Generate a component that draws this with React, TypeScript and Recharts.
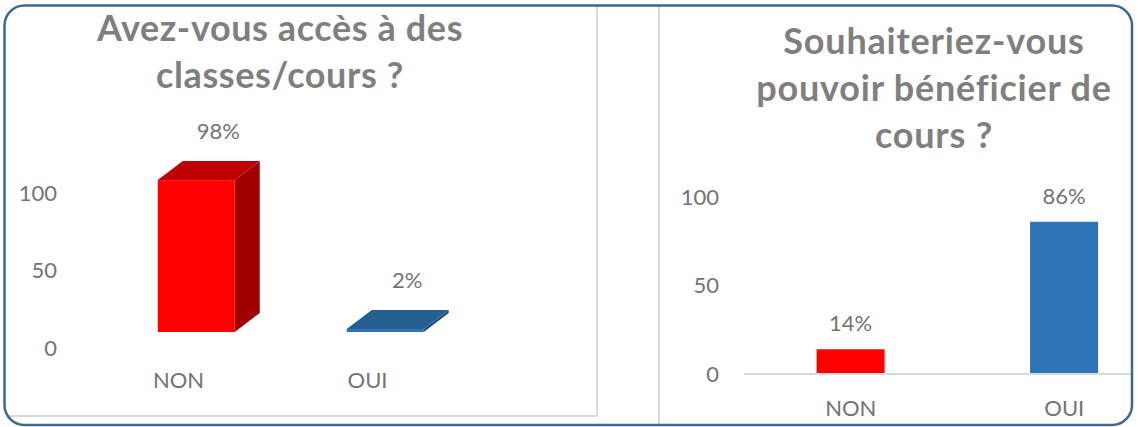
import React from 'react';
import { BarChart, Bar, XAxis, YAxis, LabelList, Cell } from 'recharts';

const categories = ['NON', 'OUI'];
const accessValues = [98, 2];
const wishValues = [14, 86];
const yTicks = [0, 50, 100];
const leftTitle = ['Avez-vous accès à des', 'classes/cours ?'];
const rightTitle = ['Souhaiteriez-vous', 'pouvoir bénéficier de', 'cours ?'];

const flatColors = ['#ff0000', '#2e75b6'];
const faces3d = [
  { front: '#ff0000', top: '#c00000', side: '#a00000' },
  { front: '#2e75b6', top: '#255e91', side: '#1f4e79' },
];

const accessData = categories.map((c, i) => ({ name: c, value: accessValues[i] }));
const wishData = categories.map((c, i) => ({ name: c, value: wishValues[i] }));

const FONT = 'Lato, "Noto Sans", sans-serif';
const TICK_COLOR = '#737373';
const TITLE_COLOR = '#7f7f7f';
const TICK_SIZE = 22;

// 3D projection offsets
const DX = 25;
const DY = -19;
const SHIFT = -16;

const Bar3D = (props: any) => {
  const { x, y, width, height, index } = props;
  const f = faces3d[index % faces3d.length];
  const fx = x;
  const fy = y + SHIFT;
  const fw = width;
  const fh = Math.max(height, 0);
  const top = `${fx},${fy} ${fx + DX},${fy + DY} ${fx + fw + DX},${fy + DY} ${fx + fw},${fy}`;
  const side = `${fx + fw},${fy} ${fx + fw + DX},${fy + DY} ${fx + fw + DX},${fy + fh + DY} ${fx + fw},${fy + fh}`;
  return (
    <g>
      <polygon points={side} fill={f.side} />
      <polygon points={top} fill={f.top} />
      <rect x={fx} y={fy} width={fw} height={Math.max(fh, 1.5)} fill={f.front} />
    </g>
  );
};

const Label3D = (props: any) => {
  const vb = props.viewBox || {};
  const x = props.x ?? vb.x;
  const y = props.y ?? vb.y;
  const width = props.width ?? vb.width;
  const cx = x + width / 2 + 22;
  const by = y + SHIFT + DY - 22;
  return (
    <text x={cx} y={by} textAnchor="middle" fill={TICK_COLOR} fontSize={TICK_SIZE} fontFamily={FONT}>
      {`${props.value}%`}
    </text>
  );
};

const LeftXTick = (props: any) => {
  const { x, y, payload } = props;
  return (
    <text x={x - 18} y={y} dy="0.71em" textAnchor="middle" fill={TICK_COLOR} fontSize={TICK_SIZE} fontFamily={FONT}>
      {payload.value}
    </text>
  );
};

const tickStyle = { fill: TICK_COLOR, fontSize: TICK_SIZE, fontFamily: FONT };

export default function App() {
  return (
    <div style={{ position: 'absolute', left: 0, top: 0, width: 1138, height: 427, background: '#ffffff', overflow: 'hidden' }}>
      <div
        style={{
          position: 'absolute',
          left: 0,
          top: 0,
          width: 1138,
          height: 427,
          overflow: 'hidden',
          clipPath: 'inset(5px 6px 2px 4px round 20px)',
        }}
      >
        <svg width={1138} height={427} style={{ position: 'absolute', left: 0, top: 0 }}>
          <line x1={597} y1={4} x2={597} y2={416} stroke="#d9d9d9" strokeWidth={2} />
          <line x1={2} y1={416} x2={597} y2={416} stroke="#d9d9d9" strokeWidth={2} />
          <line x1={659} y1={4} x2={659} y2={427} stroke="#d9d9d9" strokeWidth={2} />
        </svg>

        <div style={{ position: 'absolute', left: 0, top: 0 }}>
          <BarChart
            width={600}
            height={427}
            data={accessData}
            margin={{ top: 193, right: 120, bottom: 49, left: 42 }}
            barCategoryGap="29.5%"
          >
            <XAxis
              dataKey="name"
              height={30}
              axisLine={false}
              tickLine={false}
              tickSize={0}
              tickMargin={24}
              tick={<LeftXTick />}
            />
            <YAxis
              width={60}
              domain={[0, 100]}
              ticks={yTicks}
              interval={0}
              axisLine={false}
              tickLine={false}
              tickSize={0}
              tickMargin={45}
              tick={tickStyle}
            />
            <Bar dataKey="value" shape={<Bar3D />} isAnimationActive={false}>
              <LabelList dataKey="value" content={<Label3D />} />
            </Bar>
          </BarChart>
        </div>

        <div style={{ position: 'absolute', left: 600, top: 0 }}>
          <BarChart
            width={600}
            height={427}
            data={wishData}
            margin={{ top: 197, right: 29, bottom: 23, left: 84 }}
            barCategoryGap="34%"
          >
            <XAxis
              dataKey="name"
              height={30}
              axisLine={{ stroke: '#d9d9d9', strokeWidth: 2 }}
              tickLine={false}
              tickSize={0}
              tickMargin={26}
              tick={tickStyle}
            />
            <YAxis
              width={60}
              domain={[0, 100]}
              ticks={yTicks}
              interval={0}
              axisLine={false}
              tickLine={false}
              tickSize={0}
              tickMargin={25}
              tick={tickStyle}
            />
            <Bar dataKey="value" isAnimationActive={false}>
              {wishData.map((d, i) => (
                <Cell key={d.name} fill={flatColors[i]} />
              ))}
              <LabelList
                dataKey="value"
                position="top"
                offset={18}
                formatter={(v: any) => `${v}%`}
                style={{ fill: TICK_COLOR, fontSize: TICK_SIZE, fontFamily: FONT }}
              />
            </Bar>
          </BarChart>
        </div>

        <svg width={1138} height={427} style={{ position: 'absolute', left: 0, top: 0, pointerEvents: 'none' }}>
          {leftTitle.map((t, i) => (
            <text
              key={t}
              x={280}
              y={41 + i * 47}
              textAnchor="middle"
              fill={TITLE_COLOR}
              fontSize={36}
              letterSpacing={0.6}
              fontWeight="bold"
              fontFamily={FONT}
            >
              {t}
            </text>
          ))}
          {rightTitle.map((t, i) => (
            <text
              key={t}
              x={934}
              y={54 + i * 47}
              textAnchor="middle"
              fill={TITLE_COLOR}
              fontSize={36}
              letterSpacing={0.8}
              fontWeight="bold"
              fontFamily={FONT}
            >
              {t}
            </text>
          ))}
        </svg>
      </div>

      <svg width={1138} height={427} style={{ position: 'absolute', left: 0, top: 0, pointerEvents: 'none' }}>
        <rect x={4.5} y={5.5} width={1127.5} height={419.5} rx={20} ry={20} fill="none" stroke="#3c698c" strokeWidth={2.5} />
      </svg>
    </div>
  );
}
